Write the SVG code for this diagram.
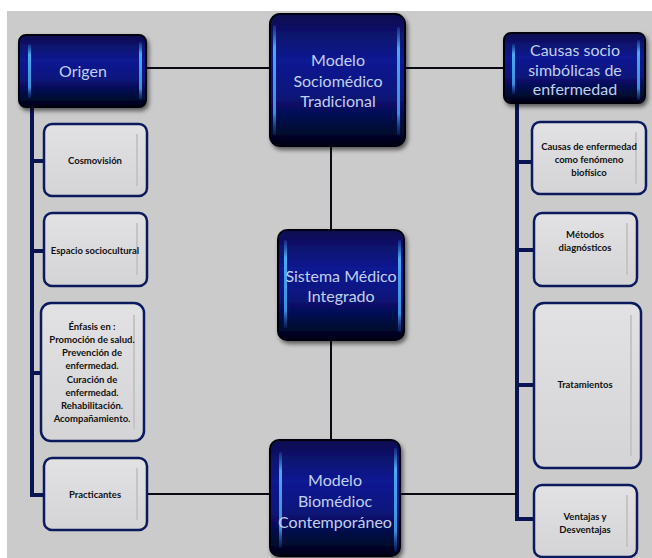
<svg xmlns="http://www.w3.org/2000/svg" width="652" height="558" viewBox="0 0 652 558">
<defs>
<linearGradient id="dk" x1="0" y1="0" x2="0" y2="1">
<stop offset="0" stop-color="#080c50"/>
<stop offset="0.35" stop-color="#0b1a92"/>
<stop offset="0.6" stop-color="#09147e"/>
<stop offset="1" stop-color="#010314"/>
</linearGradient>
<linearGradient id="hl" x1="0" y1="0" x2="0" y2="1">
<stop offset="0" stop-color="#2a70d0" stop-opacity="0.3"/>
<stop offset="0.2" stop-color="#4aaaf0"/>
<stop offset="0.8" stop-color="#3a90e0"/>
<stop offset="1" stop-color="#1a40a0" stop-opacity="0.3"/>
</linearGradient>
<linearGradient id="lt" x1="0" y1="0" x2="0" y2="1">
<stop offset="0" stop-color="#e2e2e4"/>
<stop offset="1" stop-color="#d4d4d6"/>
</linearGradient>
<filter id="sh" x="-20%" y="-20%" width="140%" height="140%">
<feDropShadow dx="2" dy="3" stdDeviation="2" flood-color="#000" flood-opacity="0.55"/>
</filter>
</defs>
<style>
.dk{fill:url(#dk);stroke:#01030f;stroke-width:2;filter:url(#sh)}
.hl{fill:url(#hl)}
.lt{fill:url(#lt);stroke:#0b1a5c;stroke-width:2.5}
.ln{fill:#c4c4c6}
.big{font-family:Lato,"Liberation Sans",sans-serif;font-size:16px;fill:#c0d0ee;text-anchor:middle}
.sm{font-family:Lato,"Liberation Sans",sans-serif;font-size:9.5px;font-weight:bold;fill:#111;text-anchor:middle}
.c{stroke:#0a0a14;stroke-width:2;fill:none}
.bar{stroke:#0a1450;stroke-width:4;fill:none}
</style>
<rect x="0" y="0" width="652" height="558" fill="#ffffff"/>
<rect x="7" y="11" width="645" height="547" fill="#cbcbcb"/>

<g id="connectors">
<path class="bar" d="M32 105 V495 H44"/>
<path class="bar" d="M32 161 H44 M32 251 H44 M32 373 H41"/>
<path class="bar" d="M517 102 V519 H535"/>
<path class="bar" d="M517 162 H533 M517 250 H535 M517 385 H535"/>
<line class="c" x1="146" y1="68" x2="270" y2="68"/>
<line class="c" x1="405" y1="68" x2="504" y2="68"/>
<line class="c" x1="331" y1="146" x2="331" y2="231"/>
<line class="c" x1="331" y1="339" x2="331" y2="441"/>
<line class="c" x1="147" y1="494" x2="271" y2="494"/>
<line class="c" x1="399" y1="494" x2="517" y2="494"/>
</g>

<g id="origen">
<rect class="dk" x="19" y="35" width="127" height="72" rx="7"/>
<rect class="hl" x="28" y="44" width="3" height="54" rx="1.5"/>
<rect class="hl" x="139" y="42" width="3" height="58" rx="1.5"/>
<text class="big" x="83" y="77">Origen</text>
</g>

<g id="modelo-tradicional">
<rect class="dk" x="270" y="14" width="135" height="132" rx="10"/>
<rect class="hl" x="273" y="25" width="3" height="110" rx="1.5"/>
<rect class="hl" x="397" y="27" width="3" height="108" rx="1.5"/>
<text class="big" x="338" y="66">Modelo</text>
<text class="big" x="338" y="87">Sociomédico</text>
<text class="big" x="338" y="107">Tradicional</text>
</g>

<g id="causas-socio">
<rect class="dk" x="504" y="33" width="141" height="70" rx="7"/>
<rect class="hl" x="512" y="44" width="3" height="50" rx="1.5"/>
<rect class="hl" x="637" y="40" width="3" height="60" rx="1.5"/>
<text class="big" x="575" y="56">Causas socio</text>
<text class="big" x="575" y="76">simbólicas de</text>
<text class="big" x="575" y="95">enfermedad</text>
</g>

<g id="sistema">
<rect class="dk" x="278" y="230" width="126" height="110" rx="9"/>
<rect class="hl" x="284" y="240" width="3" height="88" rx="1.5"/>
<rect class="hl" x="398" y="240" width="3" height="92" rx="1.5"/>
<text class="big" x="341" y="282">Sistema Médico</text>
<text class="big" x="341" y="302">Integrado</text>
</g>

<g id="modelo-biomedico">
<rect class="dk" x="270" y="440" width="130" height="116" rx="9"/>
<rect class="hl" x="279" y="452" width="3" height="96" rx="1.5"/>
<rect class="hl" x="394" y="448" width="3" height="104" rx="1.5"/>
<text class="big" x="335" y="486">Modelo</text>
<text class="big" x="335" y="507">Biomédioc</text>
<text class="big" x="335" y="528">Contemporáneo</text>
</g>

<g id="cosmovision">
<rect class="lt" x="44" y="124" width="103" height="72" rx="8"/>
<rect class="ln" x="136" y="134" width="2" height="52"/>
<text class="sm" x="95" y="164">Cosmovisión</text>
</g>

<g id="espacio">
<rect class="lt" x="44" y="213" width="103" height="73" rx="8"/>
<rect class="ln" x="136" y="223" width="2" height="52"/>
<text class="sm" x="95" y="254">Espacio sociocultural</text>
</g>

<g id="enfasis">
<rect class="lt" x="41" y="303" width="103" height="138" rx="10"/>
<rect class="ln" x="133" y="315" width="2" height="114"/>
<text class="sm" x="92" y="330">Énfasis en :</text>
<text class="sm" x="92" y="343">Promoción de salud.</text>
<text class="sm" x="92" y="356">Prevención de</text>
<text class="sm" x="92" y="369">enfermedad.</text>
<text class="sm" x="92" y="383">Curación de</text>
<text class="sm" x="92" y="396">enfermedad.</text>
<text class="sm" x="92" y="409">Rehabilitación.</text>
<text class="sm" x="92" y="422">Acompañamiento.</text>
</g>

<g id="practicantes">
<rect class="lt" x="44" y="458" width="103" height="72" rx="8"/>
<rect class="ln" x="136" y="468" width="2" height="52"/>
<text class="sm" x="95" y="498">Practicantes</text>
</g>

<g id="causas-biofisico">
<rect class="lt" x="532" y="122" width="114" height="72" rx="8"/>
<rect class="ln" x="635" y="132" width="2" height="52"/>
<text class="sm" x="589" y="150">Causas de enfermedad</text>
<text class="sm" x="589" y="163">como fenómeno</text>
<text class="sm" x="589" y="176">biofísico</text>
</g>

<g id="metodos">
<rect class="lt" x="534" y="213" width="103" height="73" rx="8"/>
<rect class="ln" x="626" y="223" width="2" height="52"/>
<text class="sm" x="585" y="238">Métodos</text>
<text class="sm" x="585" y="251">diagnósticos</text>
</g>

<g id="tratamientos">
<rect class="lt" x="534" y="303" width="107" height="165" rx="10"/>
<rect class="ln" x="630" y="315" width="2" height="141"/>
<text class="sm" x="585" y="388">Tratamientos</text>
</g>

<g id="ventajas">
<rect class="lt" x="534" y="485" width="103" height="72" rx="8"/>
<rect class="ln" x="626" y="495" width="2" height="52"/>
<text class="sm" x="585" y="520">Ventajas y</text>
<text class="sm" x="585" y="533">Desventajas</text>
</g>
</svg>
